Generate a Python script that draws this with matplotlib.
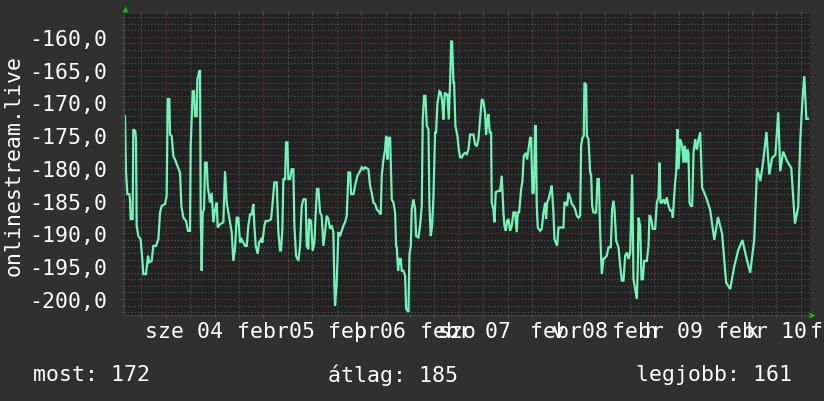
import numpy as np
import matplotlib
matplotlib.use("Agg")
import matplotlib.pyplot as plt
from matplotlib.ticker import FuncFormatter, MultipleLocator, FixedLocator
from matplotlib.transforms import blended_transform_factory

# hours since start of graph (13:45 on the 3rd)
hours = [
    0.25, 0.49, 0.82, 1.31, 1.47, 1.64, 2.13, 2.29, 2.78, 2.95, 3.11, 3.52, 4.09, 4.42, 4.75,
    5.41, 5.90, 6.22, 6.80, 7.21, 7.86, 8.44, 8.85, 9.26, 10.07, 10.48, 10.73, 11.14, 11.30,
    11.71, 12.12, 12.53, 12.94, 13.76, 14.09, 14.58, 15.23, 15.72, 16.22, 16.38, 16.87, 17.20,
    17.44, 17.85, 18.02, 18.51, 18.67, 18.84, 19.08, 19.33, 19.66, 19.90, 20.31, 20.56, 21.13,
    21.54, 21.95, 22.36, 22.77, 23.01, 23.59, 24.40, 24.82, 25.23, 25.63, 26.04, 26.45, 26.86,
    27.27, 27.68, 28.09,
    28.50, 28.91, 29.32, 29.73, 30.14, 30.55, 30.96, 31.37, 31.77, 32.02, 32.35, 32.84, 33.17,
    33.66, 33.99, 34.48, 34.80, 35.46, 36.12, 36.44, 36.93, 37.51, 37.92, 38.33, 38.57, 38.90,
    39.15, 39.56, 39.80, 40.13, 40.37, 40.78, 41.19, 41.60, 41.85, 42.26, 42.83, 43.24, 43.65,
    44.06, 44.63, 44.88, 45.29, 45.45, 45.94, 46.35, 46.76, 47.09, 47.42, 47.75, 48.15, 48.56,
    48.97, 49.38, 49.79, 50.20, 50.61, 51.02, 51.43, 51.68, 51.84, 52.25, 52.66, 53.07, 53.48,
    53.89, 54.30, 54.71, 55.12, 55.53, 55.77, 56.35,
    56.76, 57.33, 57.82, 58.40, 58.81, 59.22, 60.03, 60.44, 60.85, 61.26, 61.67, 62.08, 62.74,
    63.06, 63.31, 63.72, 64.13, 64.38, 64.70, 64.95, 65.36, 65.77, 66.18, 66.59, 66.83, 67.00,
    67.32, 67.65, 67.98, 68.22, 68.63, 69.04, 69.29, 69.62, 69.86, 70.11, 70.44, 70.68, 71.09,
    71.50, 71.75, 72.32, 72.73, 73.14, 73.38, 73.71, 74.04, 74.37, 74.78, 75.02, 75.35, 75.68,
    76.01, 76.41, 76.66, 76.99, 77.48, 77.81, 78.14, 78.46, 78.79, 79.12, 79.44, 79.77, 80.10,
    80.35, 80.59, 80.92, 81.08, 81.41, 81.90, 82.23, 82.56, 82.97, 83.38, 83.79, 84.20, 84.60,
    85.01, 85.83, 86.24, 86.65, 87.06, 87.47, 87.88, 88.28, 88.69, 88.94, 89.19, 89.51, 89.84,
    90.17, 90.33, 90.74, 90.99, 91.31, 91.97, 92.38, 92.79, 93.20, 93.44, 93.77, 94.10, 94.43,
    94.84, 95.25, 95.66, 96.07, 96.47, 96.72, 97.05, 97.54, 97.87, 98.19, 98.69, 99.01, 99.34,
    99.75, 99.99, 100.32, 100.65, 100.98, 101.14, 101.39, 101.63, 102.21, 102.62, 103.03,
    103.44, 103.68, 103.93, 104.26, 104.66, 105.07, 105.48, 105.73, 106.06, 106.38, 106.71,
    107.94, 108.19, 108.52, 108.84, 109.17, 109.58, 109.99, 110.40, 110.81, 111.22, 111.63,
    112.04, 112.28, 112.61, 112.94, 113.10,
    113.51, 113.68, 114.09, 114.50, 114.74, 114.99, 115.32, 115.97, 116.30, 116.63, 116.95,
    117.36, 117.77, 118.18, 118.59, 119.00, 119.57, 119.90, 120.23, 120.48, 120.89, 121.46,
    121.87, 122.28, 122.69, 123.10, 123.51, 123.92, 124.33, 124.49, 124.82, 125.14, 125.55,
    125.96, 126.21, 126.37, 126.78, 127.11, 127.44, 127.76, 128.42, 128.83, 129.08, 129.40,
    129.89, 130.47, 130.88, 131.29, 131.53, 131.78, 132.11, 132.52, 132.92, 133.33, 133.74,
    134.15, 134.56, 134.81, 135.14, 135.38, 135.63, 135.95, 136.20, 136.61, 136.86, 137.10,
    137.43, 137.76, 138.09, 138.41, 138.66, 138.90, 139.23, 139.56, 139.89, 140.30, 140.71,
    141.11, 141.52,
    142.0, 143.0, 144.0, 145.0, 145.9, 146.9, 147.9, 148.9, 149.9, 150.9, 151.9, 152.8, 153.8,
    154.8, 155.5, 156.3, 157.0, 157.8, 158.5, 159.2, 160.0, 160.7, 161.2, 161.9, 162.9, 163.9,
    164.8, 165.6, 166.1, 166.6, 167.1, 167.6, 168.0,
]

signal = [
    -172.1, -180.5, -184.0, -184.0, -184.8, -187.8, -187.8, -174.1, -174.4, -175.6, -188.8,
    -190.4, -190.9, -193.4, -196.2, -196.2, -193.4, -194.4, -194.2, -191.9, -191.9, -190.9,
    -186.8, -185.8, -185.5, -184.3, -169.5, -169.5, -174.9, -175.1, -178.2, -178.7, -179.4,
    -180.7, -185.8, -187.6, -188.1, -189.6, -189.6, -176.6, -168.3, -168.3, -172.1, -172.1,
    -166.5, -165.2, -165.2, -186.8, -195.7, -186.8, -186.3, -179.2, -179.2, -182.7, -185.3,
    -183.8, -188.3, -186.3, -185.3, -189.1, -188.6, -188.3, -180.5, -185.3, -186.8, -188.3,
    -189.8, -194.2, -192.4, -187.6, -187.6,
    -191.4, -190.9, -191.4, -191.9, -191.9, -188.8, -187.1, -187.1, -185.5, -188.8, -191.9,
    -193.1, -191.4, -190.9, -191.4, -188.8, -188.1, -188.1, -187.8, -185.8, -182.2, -182.2,
    -189.8, -192.6, -192.6, -189.3, -181.7, -181.7, -176.1, -176.1, -181.7, -181.7, -180.2,
    -180.2, -188.8, -193.4, -194.2, -191.9, -185.8, -184.8, -184.8, -191.9, -192.4, -187.8,
    -188.1, -192.6, -191.4, -186.8, -183.2, -183.2, -186.8, -187.3, -191.9, -189.8, -187.3,
    -187.8, -189.3, -188.8, -189.8, -198.0, -201.0, -197.5, -189.8, -190.4, -189.6, -188.8,
    -188.3, -187.3, -180.7, -180.7, -184.0, -184.0,
    -182.7, -181.2, -180.7, -179.9, -180.2, -179.9, -180.2, -182.7, -183.8, -185.3, -185.5,
    -186.3, -186.8, -187.1, -181.2, -178.7, -177.2, -175.1, -178.7, -175.4, -175.4, -184.8,
    -185.3, -186.8, -191.9, -192.1, -195.7, -193.9, -193.9, -195.7, -195.7, -196.4, -201.5,
    -201.8, -202.0, -193.2, -191.9, -186.3, -184.8, -186.3, -190.4, -190.6, -188.8, -185.8,
    -172.6, -169.0, -169.0, -173.6, -174.1, -185.8, -190.4, -188.8, -184.3, -174.6, -174.6,
    -170.1, -168.3, -168.5, -169.8, -172.6, -168.5, -168.8, -168.8, -172.6, -167.0, -160.7,
    -160.7, -167.0, -167.0, -173.6, -175.1, -177.2, -178.4, -178.4, -177.9, -177.7, -177.9,
    -177.2,
    -174.9, -174.9, -176.4, -176.7, -175.6, -172.6, -169.5, -169.8, -171.6, -174.9, -173.1,
    -171.8, -174.6, -174.6, -185.3, -186.3, -188.3, -183.7, -183.5, -183.5, -181.2, -186.8,
    -188.8, -189.6, -188.1, -187.8, -189.6, -188.8, -186.8, -186.8, -189.8, -186.8, -186.8,
    -183.3, -182.0, -178.2, -177.7, -178.7, -177.2, -175.4, -175.4, -183.8, -183.8, -173.6,
    -173.6, -185.8, -189.1, -189.6, -189.3, -186.8, -185.3, -187.8, -185.3, -184.8, -183.8,
    -182.7, -186.8, -190.9, -191.4, -191.9, -189.1, -189.1, -185.3, -185.3, -185.8, -183.8,
    -184.5, -185.5, -185.8, -186.3, -187.3, -187.6, -187.3, -176.6, -175.4, -175.1, -167.0,
    -167.3, -175.1, -175.6, -180.7, -181.0, -185.8, -186.8, -186.8, -181.7, -181.7, -189.8,
    -196.2, -193.9, -193.7, -193.4, -192.1, -192.1, -186.3, -185.0, -186.3, -191.1, -192.1,
    -194.9, -197.2, -197.2, -193.4, -192.9, -193.9, -192.9, -188.8, -181.0, -197.0, -198.5,
    -200.0, -194.9, -187.6, -188.8, -197.0, -197.0, -194.2, -194.2, -191.9, -187.2, -187.6,
    -189.3, -189.3, -185.3, -184.5, -179.2, -185.3, -185.3, -184.8, -185.5, -184.5, -185.8,
    -186.5, -186.5, -187.6, -184.3, -182.2, -180.7, -174.1, -180.2, -175.6, -176.1, -176.6,
    -179.2, -176.6, -179.2, -177.2, -177.7, -185.3, -185.8, -185.8, -177.7, -175.6, -177.2,
    -175.6, -174.6,
    -183.0, -184.5, -186.5, -191.0, -187.5, -190.0, -197.5, -198.5, -195.0, -192.5, -191.0,
    -193.5, -196.0, -191.0, -180.0, -182.0, -179.0, -174.5, -181.0, -178.5, -178.0, -171.5,
    -180.5, -177.5, -179.0, -180.0, -188.5, -186.0, -176.0, -170.0, -166.0, -172.5, -172.5,
]

# x axis labels as rendered (overlapping weekday / month strings)
day_labels = ["sze 04", "febr05", "febr06", "febr 07", "febr08", "febr 09", "febr 10", "febr"]
day_label_pos = [5.16, 27.76, 50.12, 72.73, 99.75, 119.9, 145.45, 168.55]
overlay_labels = ["p", "szo", "v", "h", "k"]
overlay_pos = [56.5, 77.15, 105.2, 128.0, 152.6]

legend_texts = ["most: 172", "átlag: 185", "legjobb: 161"]
legend_px = [33, 328, 636]

plt.rcParams['font.family'] = ['DejaVu Sans Mono']
FG = '#ffffff'

fig = plt.figure(figsize=(8.24, 4.02), dpi=100, facecolor='#303030')
ax = fig.add_axes([124 / 824, 1 - 316 / 402, 686 / 824, 301 / 402])
ax.set_facecolor('#222222')

ax.plot(hours, signal, color='#6ff5b8', lw=1.6, solid_joinstyle='miter')

ax.set_xlim(0, 168.5)
ax.set_ylim(-202.45, -156.5)

ax.yaxis.set_major_locator(MultipleLocator(5))
ax.yaxis.set_minor_locator(MultipleLocator(1))
ax.xaxis.set_major_locator(FixedLocator([10.25 + 24 * k for k in range(7)]))
ax.xaxis.set_minor_locator(FixedLocator([4.25 + 6 * k for k in range(28)]))

ax.grid(which='minor', color='#5a5a5a', linestyle=(0, (1, 2)), lw=0.8)
ax.grid(which='major', color='#7a3838', linestyle=(0, (1, 2)), lw=0.8)
ax.set_axisbelow(True)

ax.yaxis.set_major_formatter(FuncFormatter(lambda v, p: f"{v:.1f}".replace('.', ',')))
ax.tick_params(axis='y', which='both', colors='#555555', labelcolor=FG,
               labelsize=15.5, length=2, pad=10)
ax.tick_params(axis='x', which='both', colors='#555555', length=2,
               top=True, labelbottom=False)
for s in ['top', 'right']:
    ax.spines[s].set_visible(False)
for s in ['left', 'bottom']:
    ax.spines[s].set_color('#444444')

tr = blended_transform_factory(ax.transData, fig.transFigure)
ylab = 1 - 332 / 402
for lab, pos in zip(day_labels, day_label_pos):
    ax.text(pos, ylab, lab, transform=tr, color=FG, fontsize=15.5,
            ha='left', va='center', clip_on=False)
for lab, pos in zip(overlay_labels, overlay_pos):
    ax.text(pos, ylab, lab, transform=tr, color=FG, fontsize=15.5,
            ha='left', va='center', clip_on=False)

fig.text(14 / 824, 1 - 166 / 402, 'onlinestream.live', rotation=90, color=FG,
         fontsize=15.5, ha='center', va='center')

for txt, px in zip(legend_texts, legend_px):
    fig.text(px / 824, 1 - 375 / 402, txt, color=FG, fontsize=15.5,
             ha='left', va='center')

# rrdtool style axis arrows
ax.plot([0.002], [1.015], marker='^', color='#00cc00', ms=5, mec='none',
        transform=ax.transAxes, clip_on=False)
ax.plot([1.003], [0.0], marker='>', color='#00cc00', ms=5, mec='none',
        transform=ax.transAxes, clip_on=False)

fig.savefig('out.png', dpi=100, facecolor=fig.get_facecolor())
